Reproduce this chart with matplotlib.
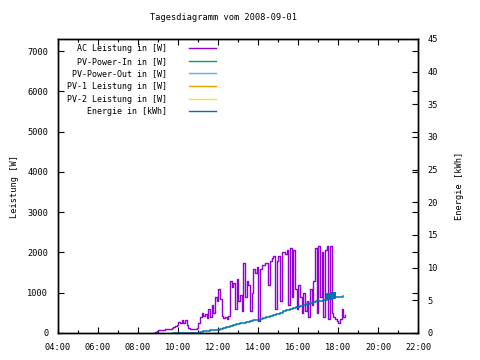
import numpy as np
import matplotlib
matplotlib.use("Agg")
import matplotlib.pyplot as plt

# AC power [W], one reading every 5 minutes starting 08:46
ac_start = 8 + 46 / 60
ac_step_min = 5
ac_power = [
    0, 30, 60, 70, 70, 80, 80, 90, 90, 100, 110, 120, 160, 180, 200, 280,
    240, 330, 260, 320, 200, 130, 110, 90, 100, 90, 120, 250, 400, 500, 420,
    480, 380, 600, 400, 700, 500, 900, 800, 1100, 850, 420, 380, 400, 350,
    420, 1300, 1150, 1250, 600, 1350, 800, 950, 550, 1750, 900, 1300, 1200,
    550, 1000, 1600, 1500, 1650, 300, 1600, 1700, 1700, 1750, 1750, 1200,
    1800, 1850, 1900, 600, 1800, 1900, 800, 2000, 2000, 1950, 2050, 700,
    2100, 900, 2050, 1100, 600, 1200, 900, 500, 1000, 550, 800, 400, 1100,
    700, 1300, 2100, 500, 2150, 900, 2000, 400, 2050, 2150, 350, 2150, 500,
    400, 350, 300, 250, 350, 600, 400, 450,
]

# daily energy [kWh], one reading every 10 minutes starting 09:45
en_start = 9 + 45 / 60
en_step_min = 10
energy = [
    0, 0, 0, 0, 0, 0, 0, 0, 0.15, 0.25, 0.35, 0.42, 0.45, 0.5, 0.65, 0.8,
    0.95, 1.1, 1.25, 1.35, 1.5, 1.6, 1.7, 1.85, 1.95, 2.05, 2.2, 2.35, 2.45,
    2.6, 2.75, 2.9, 3.1, 3.3, 3.45, 3.65, 3.8, 3.95, 4.1, 4.25, 4.4, 4.55,
    4.7, 4.85, 4.95, 5.05, 5.15, 5.3, 5.45, 5.5, 5.55, 5.65,
]

# jittery energy readings, one per minute starting 17:26
blob_start = 17 + 26 / 60
energy_blob = [
    5.1, 5.9, 5.15, 5.9, 5.2, 5.95, 5.2, 5.95, 5.2, 5.9, 5.25, 5.95, 5.25,
    5.95, 5.3, 6.1, 5.3, 6.1, 5.35, 6.1, 5.35, 6.1, 5.4, 6.1, 5.4, 6.05, 5.45,
]

labels = [
    "AC Leistung in [W]",
    "PV-Power-In in [W]",
    "PV-Power-Out in [W]",
    "PV-1 Leistung in [W]",
    "PV-2 Leistung in [W]",
    "Energie in [kWh]",
]
colors = ["#9400d3", "#009e73", "#56b4e9", "#e69f00", "#f0e442", "#0072b2"]

plt.rcParams["font.family"] = ["DejaVu Sans Mono"]
plt.rcParams["font.size"] = 6.2

fig = plt.figure(figsize=(4.8, 3.6), dpi=100)
ax = fig.add_axes([58 / 480, 1 - 333 / 360, 360 / 480, 294 / 360])
ax2 = ax.twinx()

ac_t = ac_start + np.arange(len(ac_power)) * ac_step_min / 60
en_t = en_start + np.arange(len(energy)) * en_step_min / 60
blob_t = blob_start + np.arange(len(energy_blob)) / 60

ax.plot(ac_t, ac_power, color=colors[0], lw=1.0, drawstyle="steps-post")
ax2.plot(en_t, energy, color=colors[5], lw=1.1, drawstyle="steps-post")
ax2.plot(blob_t, energy_blob, color=colors[5], lw=1.1, drawstyle="steps-post")

leg_handles = [plt.Line2D([], [], color=c, lw=1) for c in colors]
ax2.legend(leg_handles, labels, loc="upper left", bbox_to_anchor=(0.012, 1.0),
           frameon=False, markerfirst=False, handlelength=3.3,
           handletextpad=2.6, labelspacing=0.44, fontsize=6,
           borderaxespad=0.2)

ax.set_xlim(4, 22)
ax.set_ylim(0, 7300)
ax2.set_ylim(0, 45)

ax.set_xticks(np.arange(4, 23, 2))
ax.set_xticks(np.arange(5, 22, 2), minor=True)
ax.set_xticklabels([f"{int(v):02d}:00" for v in np.arange(4, 23, 2)])
ax.set_yticks(np.arange(0, 7001, 1000))
ax2.set_yticks(np.arange(0, 46, 5))

ax.tick_params(direction="in", top=True, right=True, length=4, width=0.8, pad=7)
ax.tick_params(which="minor", direction="in", top=True, length=2.5, width=0.8)
ax2.tick_params(direction="in", length=4, width=0.8, pad=7)

for a in (ax, ax2):
    for s in a.spines.values():
        s.set_linewidth(1)
        s.set_color("black")

ax.set_ylabel("Leistung [W]", labelpad=6)
ax2.set_ylabel("Energie [kWh]", labelpad=12)
fig.text(224 / 480, 1 - 18 / 360, "Tagesdiagramm vom 2008-09-01",
         ha="center", va="center")

fig.savefig("out.png", dpi=100)
